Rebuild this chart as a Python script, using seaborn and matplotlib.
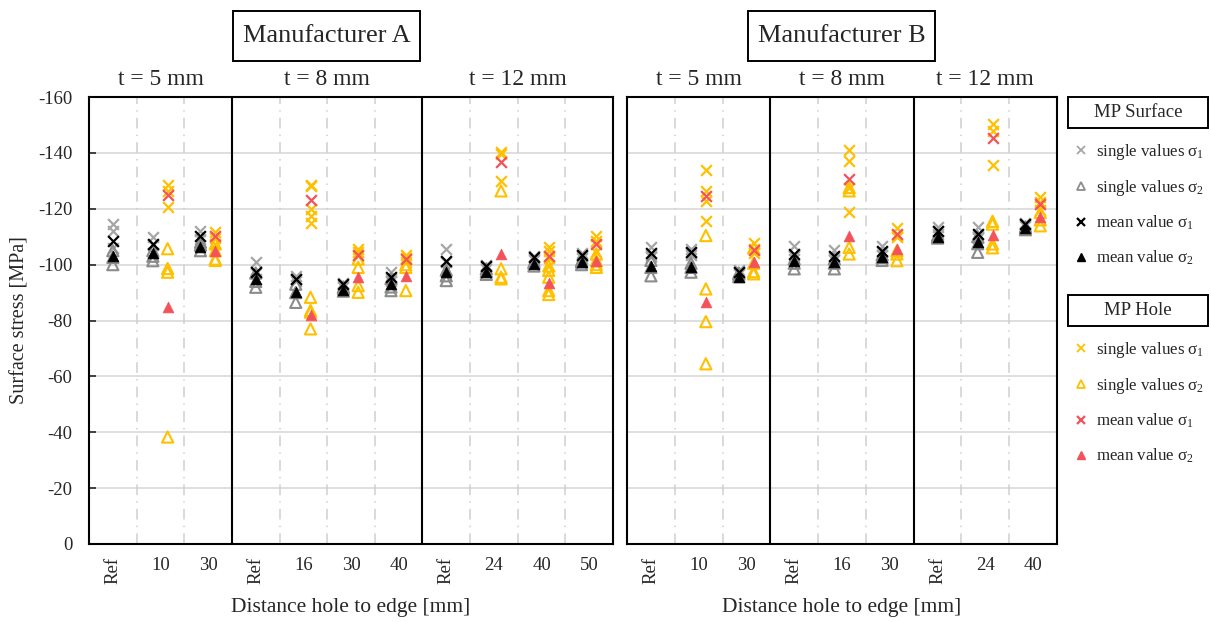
import matplotlib
matplotlib.use("Agg")
import numpy as np
import pandas as pd
import matplotlib.pyplot as plt
import seaborn as sns
from matplotlib.lines import Line2D
from matplotlib.patches import Rectangle

sns.set_style("white")
plt.rcParams["font.family"] = ["Liberation Serif", "DejaVu Serif"]
plt.rcParams["mathtext.fontset"] = "custom"
plt.rcParams["mathtext.rm"] = "Liberation Serif"
plt.rcParams["mathtext.it"] = "Liberation Serif"
plt.rcParams["axes.unicode_minus"] = False

# ---- categories ----
cats_a = ["Ref", "10", "30", "Ref", "16", "30", "40", "Ref", "24", "40", "50"]
thick_a = [5, 5, 5, 8, 8, 8, 8, 12, 12, 12, 12]
cats_b = ["Ref", "10", "30", "Ref", "16", "30", "Ref", "24", "40"]
thick_b = [5, 5, 5, 8, 8, 8, 12, 12, 12]

# ---- Manufacturer A, MP Surface ----
a_surf_s1 = [[-114.5, -112, -106], [-110, -107, -104], [-112, -109], [-101, -97, -95],
             [-96, -95, -94], [-93.5, -92.5, -92], [-97.3, -95, -94], [-105.6, -101, -98],
             [-100, -99, -98.5], [-103, -102, -101.5], [-104, -103, -102.5]]
a_surf_s2 = [[-100, -102.6, -105], [-101.4, -103, -105], [-105, -107, -108], [-91.9, -94, -97],
             [-86.5, -90, -93], [-90.5, -91.5, -92], [-90.7, -92, -95], [-94.3, -96, -98],
             [-96.5, -97.5, -98.5], [-99.5, -100.5, -101], [-100, -101, -101.5]]
a_surf_m1 = [-108.6, -107.4, -110.4, -97.3, -95, -93.1, -95.5, -101.2, -99.6, -102.6, -103.6]
a_surf_m2 = [-103, -104, -106.2, -95, -90.1, -90.9, -93.1, -97.3, -97.3, -100.2, -100.8]

# ---- Manufacturer A, MP Hole ----
a_hole_s1 = [[], [-128.5, -126.5, -120.5], [-111.5, -109.5, -107.5], [],
             [-128.5, -128, -120, -117.5, -115], [-105.5, -104.5, -103], [-103.5, -102.5, -101], [],
             [-140.2, -139.5, -129.8], [-106.4, -105, -102.5, -99.5], [-110.1, -108.3, -104.5]]
a_hole_s2 = [[], [-105.7, -98.6, -97.3, -38.3], [-107.5, -105, -102, -101.5], [],
             [-88.3, -83.6, -83, -77], [-102, -99, -92.5, -90.1], [-100, -99, -90.7], [],
             [-126.4, -98.5, -94.9, -95.5], [-99.5, -97.9, -95.5, -90.7, -89.3], [-103.8, -101.4, -99, -100]]
a_hole_m1 = [None, -125, -110.3, None, -123.1, -103.6, -102, None, -136.9, -103.2, -107.4]
a_hole_m2 = [None, -85, -104.8, None, -81.8, -95.5, -96, None, -103.8, -93.3, -101.2]

# ---- Manufacturer B, MP Surface ----
b_surf_s1 = [[-106.2, -102.6, -103.5], [-105.7, -104, -103.5], [-98, -97, -96.5],
             [-106.8, -103, -102], [-105.2, -102.5, -101.5], [-106.8, -104.5, -103.5],
             [-113.3, -112, -111], [-113.3, -110, -109.5], [-115, -114.5, -114]]
b_surf_s2 = [[-96, -99, -101.5], [-97.3, -99, -100.5], [-95.7, -96.5, -97],
             [-98.5, -100.5, -102], [-98.5, -100.5, -102], [-101.5, -102.5, -103.5],
             [-109.5, -110, -110.5], [-104.4, -107.5, -110], [-112.5, -113, -113.5]]
b_surf_m1 = [-104.2, -104.4, -97.3, -103.8, -103.2, -105, -112.1, -111, -114.5]
b_surf_m2 = [-99.6, -99, -95.7, -101.4, -100.8, -102.6, -109.8, -108, -113.1]

# ---- Manufacturer B, MP Hole ----
b_hole_s1 = [[], [-133.8, -126.4, -122.9, -115.7], [-107.6, -105.5, -104], [],
             [-141, -137.1, -127.5, -118.7], [-113, -110.5, -109.8], [],
             [-150.2, -147.9, -135.7], [-124.3, -122.5, -119.5]]
b_hole_s2 = [[], [-110.4, -91.3, -79.6, -64.5], [-106, -100.5, -97.5, -96.7], [],
             [-127.6, -126.4, -106.2, -103.8], [-105, -103.8, -101.4], [],
             [-115.5, -114.5, -107.4, -106], [-118.7, -116, -113.9]]
b_hole_m1 = [None, -124.6, -105.2, None, -130.6, -111, None, -145.2, -121.7]
b_hole_m2 = [None, -86.5, -100.8, None, -110.4, -105.6, None, -110.7, -116.9]

GRAY1 = "#a6a6a6"
GRAY2 = "#8c8c8c"
ORANGE = "#ffc000"
RED = "#f4525a"

# series: name -> (marker, color, hollow, group)
styles = {
    "surf_s1": ("x", GRAY1, False, "surf"),
    "surf_s2": ("^", GRAY2, True, "surf"),
    "surf_m1": ("x", "black", False, "surf"),
    "surf_m2": ("^", "black", False, "surf"),
    "hole_s1": ("x", ORANGE, False, "hole"),
    "hole_s2": ("^", ORANGE, True, "hole"),
    "hole_m1": ("x", RED, False, "hole"),
    "hole_m2": ("^", RED, False, "hole"),
}


def build(cats, series):
    rows = []
    for name, vals in series.items():
        group = styles[name][3]
        for i, v in enumerate(vals):
            vs = v if isinstance(v, list) else ([] if v is None else [v])
            if cats[i] == "Ref":
                off = 0.0
            else:
                off = -0.16 if group == "surf" else 0.15
            for y in vs:
                rows.append({"series": name, "x": i + off, "value": y})
    return pd.DataFrame(rows)


df_a = build(cats_a, {"surf_s1": a_surf_s1, "surf_s2": a_surf_s2, "surf_m1": a_surf_m1,
                      "surf_m2": a_surf_m2, "hole_s1": a_hole_s1, "hole_s2": a_hole_s2,
                      "hole_m1": a_hole_m1, "hole_m2": a_hole_m2})
df_b = build(cats_b, {"surf_s1": b_surf_s1, "surf_s2": b_surf_s2, "surf_m1": b_surf_m1,
                      "surf_m2": b_surf_m2, "hole_s1": b_hole_s1, "hole_s2": b_hole_s2,
                      "hole_m1": b_hole_m1, "hole_m2": b_hole_m2})

W, H = 1211, 622
fig = plt.figure(figsize=(W / 100, H / 100), dpi=100)
ax_a = fig.add_axes([89 / W, 1 - 544 / H, 524 / W, 447 / H])
ax_b = fig.add_axes([627 / W, 1 - 544 / H, 430 / W, 447 / H])


def draw_panel(ax, df, cats, thick, show_y):
    n = len(cats)
    for name in ["surf_s1", "surf_s2", "surf_m1", "surf_m2",
                 "hole_s1", "hole_s2", "hole_m1", "hole_m2"]:
        marker, col, hollow, _ = styles[name]
        sub = df[df["series"] == name]
        if marker == "x":
            sns.scatterplot(data=sub, x="x", y="value", ax=ax, marker="x",
                            color=col, s=60, linewidth=1.6, zorder=3)
        elif hollow:
            sns.scatterplot(data=sub, x="x", y="value", ax=ax, marker="^",
                            color=col, facecolor="none", edgecolor=col,
                            s=65, linewidth=1.5, zorder=3)
        else:
            sns.scatterplot(data=sub, x="x", y="value", ax=ax, marker="^",
                            color=col, edgecolor=col, s=60, linewidth=0.5, zorder=3)

    ax.set_xlim(-0.5, n - 0.5)
    ax.set_ylim(0, -160)
    ax.set_yticks(np.arange(0, -161, -20))
    ax.yaxis.grid(True, color="#d9d9d9", lw=1.2)
    ax.set_axisbelow(True)

    # category boundaries
    for b in range(1, n):
        if thick[b] != thick[b - 1]:
            ax.axvline(b - 0.5, color="black", lw=1.5, zorder=2)
        else:
            ax.axvline(b - 0.5, color="#cfcfcf", lw=1.1, ls=(0, (7, 4, 1, 4)), zorder=1)

    ax.set_xticks(np.arange(n))
    ax.set_xticklabels(cats)
    ax.set_xticks(np.arange(n + 1) - 0.5, minor=True)
    ax.tick_params(axis="x", which="major", length=0, labelsize=13.5, pad=9)
    ax.tick_params(axis="x", which="minor", direction="in", length=5, width=1.2, color="black")
    for lab in ax.get_xticklabels():
        if lab.get_text() == "Ref":
            lab.set_rotation(90)
    if show_y:
        ax.tick_params(axis="y", direction="in", length=5, width=1.2, labelsize=13.5,
                       left=True, pad=12)
        ax.set_ylabel("Surface stress [MPa]", fontsize=14.5, labelpad=6)
    else:
        ax.tick_params(axis="y", left=False, labelleft=False)
        ax.set_ylabel("")
    ax.set_xlabel("Distance hole to edge [mm]", fontsize=15.5, labelpad=10)
    for sp in ax.spines.values():
        sp.set_color("black")
        sp.set_linewidth(1.5)

    # thickness group titles
    trans = ax.get_xaxis_transform()
    t_vals = sorted(set(thick), key=thick.index)
    for t in t_vals:
        idx = [i for i, v in enumerate(thick) if v == t]
        xc = (idx[0] + idx[-1]) / 2
        ax.text(xc, 1.04, f"t = {t} mm", transform=trans, ha="center", va="center", fontsize=17)


draw_panel(ax_a, df_a, cats_a, thick_a, True)
draw_panel(ax_b, df_b, cats_b, thick_b, False)


def boxed(x0, x1, y0, y1, text, size):
    fig.add_artist(Rectangle((x0 / W, 1 - y1 / H), (x1 - x0) / W, (y1 - y0) / H,
                             transform=fig.transFigure, fc="white", ec="black", lw=1.4))
    fig.text((x0 + x1) / 2 / W, 1 - (y0 + y1) / 2 / H, text, ha="center", va="center",
             fontsize=size)


boxed(233, 420, 11, 61, "Manufacturer A", 19)
boxed(748, 935, 11, 61, "Manufacturer B", 19)
boxed(1068, 1208, 97, 128, "MP Surface", 13.5)
boxed(1068, 1208, 295, 326, "MP Hole", 13.5)

labels = ["single values $\\sigma_1$", "single values $\\sigma_2$",
          "mean value $\\sigma_1$", "mean value $\\sigma_2$"]


def handles(c_single_x, c_single_t, c_mean):
    return [
        Line2D([], [], ls="", marker="x", color=c_single_x, ms=6, mew=1.3),
        Line2D([], [], ls="", marker="^", mfc="none", mec=c_single_t, ms=6, mew=1.3),
        Line2D([], [], ls="", marker="x", color=c_mean, ms=6, mew=1.6),
        Line2D([], [], ls="", marker="^", color=c_mean, ms=6),
    ]


leg_kw = dict(loc="upper left", frameon=False, fontsize=12.2, handlelength=0.8,
              handletextpad=0.5, labelspacing=0.95, borderaxespad=0)
fig.legend(handles(GRAY1, GRAY2, "black"), labels,
           bbox_to_anchor=(1067 / W, 1 - 135 / H), **leg_kw)
fig.legend(handles(ORANGE, ORANGE, RED), labels,
           bbox_to_anchor=(1067 / W, 1 - 333 / H), **leg_kw)

fig.savefig("out.png", dpi=100)
